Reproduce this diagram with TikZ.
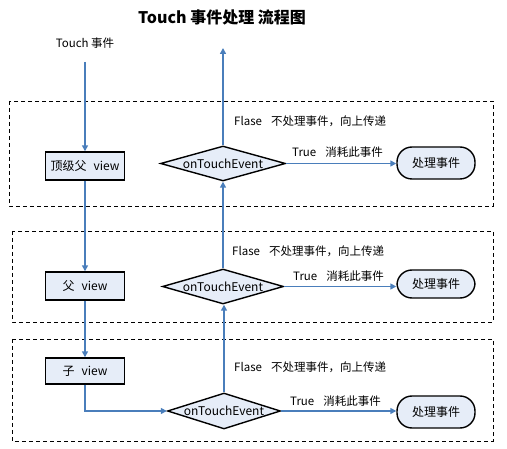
\documentclass[tikz,border=0pt]{standalone}
\usepackage{fontspec}
\setmainfont{Noto Sans CJK SC}
\usetikzlibrary{arrows.meta,shapes.geometric}
\definecolor{lnblue}{HTML}{4A7EBB}
\definecolor{boxfill}{HTML}{E6EDF8}
\begin{document}
\begin{tikzpicture}[x=1pt,y=-1pt,
  txt/.style={font=\fontsize{11.5}{13}\selectfont, inner sep=0pt},
  viewbox/.style={draw=black, line width=1.4pt, fill=boxfill, minimum width=79pt, minimum height=28pt, inner sep=0pt, font=\fontsize{12}{14}\selectfont},
  decide/.style={diamond, aspect=3.6, draw=black, line width=1.4pt, fill=boxfill, minimum width=123pt, minimum height=35pt, inner sep=0pt, font=\fontsize{12}{14}\selectfont},
  term/.style={draw=black, line width=1.4pt, fill=boxfill, rounded corners=15pt, minimum width=78pt, minimum height=32pt, inner sep=0pt, font=\fontsize{12}{14}\selectfont},
  zone/.style={draw=black, line width=0.9pt, dash pattern=on 4pt off 3pt},
  flow/.style={draw=lnblue, line width=1.5pt, -{Triangle[length=6pt,width=6pt]}}
]
\useasboundingbox (0,0) rectangle (507,449);
% zones
\draw[zone] (9,101) rectangle (493,206);
\draw[zone] (12,231) rectangle (493,322);
\draw[zone] (12,339) rectangle (493,441);
% title
\node[font=\bfseries\fontsize{16}{18}\selectfont, inner sep=0pt] (title) at (222,17) {Touch 事件处理 流程图};
\node[txt] (touch) at (85,43) {Touch 事件};
\coordinate (tstart) at (85,62);
\coordinate (outtop) at (223,48);
% nodes
\node[viewbox] (v1) at (85,166) {顶级父\hspace{7pt}view};
\node[viewbox] (v2) at (85,286) {父\hspace{7pt}view};
\node[viewbox, minimum height=26pt] (v3) at (85,371) {子\hspace{7pt}view};
\node[decide, minimum width=125pt] (d1) at (223,163.5) {onTouchEvent};
\node[decide, minimum width=121pt] (d2) at (223,286.5) {onTouchEvent};
\node[decide, aspect=3.1, minimum width=113pt, minimum height=36pt] (d3) at (224,411) {onTouchEvent};
\node[term] (t1) at (436,163) {处理事件};
\node[term, minimum height=28pt] (t2) at (436,284) {处理事件};
\node[term] (t3) at (436,412) {处理事件};
% labels
\node[txt, anchor=west] (f1) at (234,121) {Flase\hspace{9pt}不处理事件，向上传递};
\node[txt, anchor=west] (f2) at (232,251) {Flase\hspace{9pt}不处理事件，向上传递};
\node[txt, anchor=west] (f3) at (234,367) {Flase\hspace{9pt}不处理事件，向上传递};
\node[txt, anchor=west] (r1) at (292,152) {True\hspace{9pt}消耗此事件};
\node[txt, anchor=west] (r2) at (293,276) {True\hspace{9pt}消耗此事件};
\node[txt, anchor=west] (r3) at (290,401) {True\hspace{9pt}消耗此事件};
% connectors
\draw[flow] (tstart) -- (v1.north);
\draw[flow] (v1.south) -- (v2.north);
\draw[flow] (v2.south) -- (v3.north);
\draw[flow] (v3.south) |- (d3.west);
\draw[flow] (d3.north) -- (d3.north |- d2.south);
\draw[flow] (d2.north) -- (d1.south);
\draw[flow] (d1.north) -- (outtop);
\draw[flow] (d1.east) -- (d1.east -| t1.west);
\draw[flow] (d2.east) -- (d2.east -| t2.west);
\draw[flow] (d3.east) -- (d3.east -| t3.west);
\end{tikzpicture}
\end{document}
